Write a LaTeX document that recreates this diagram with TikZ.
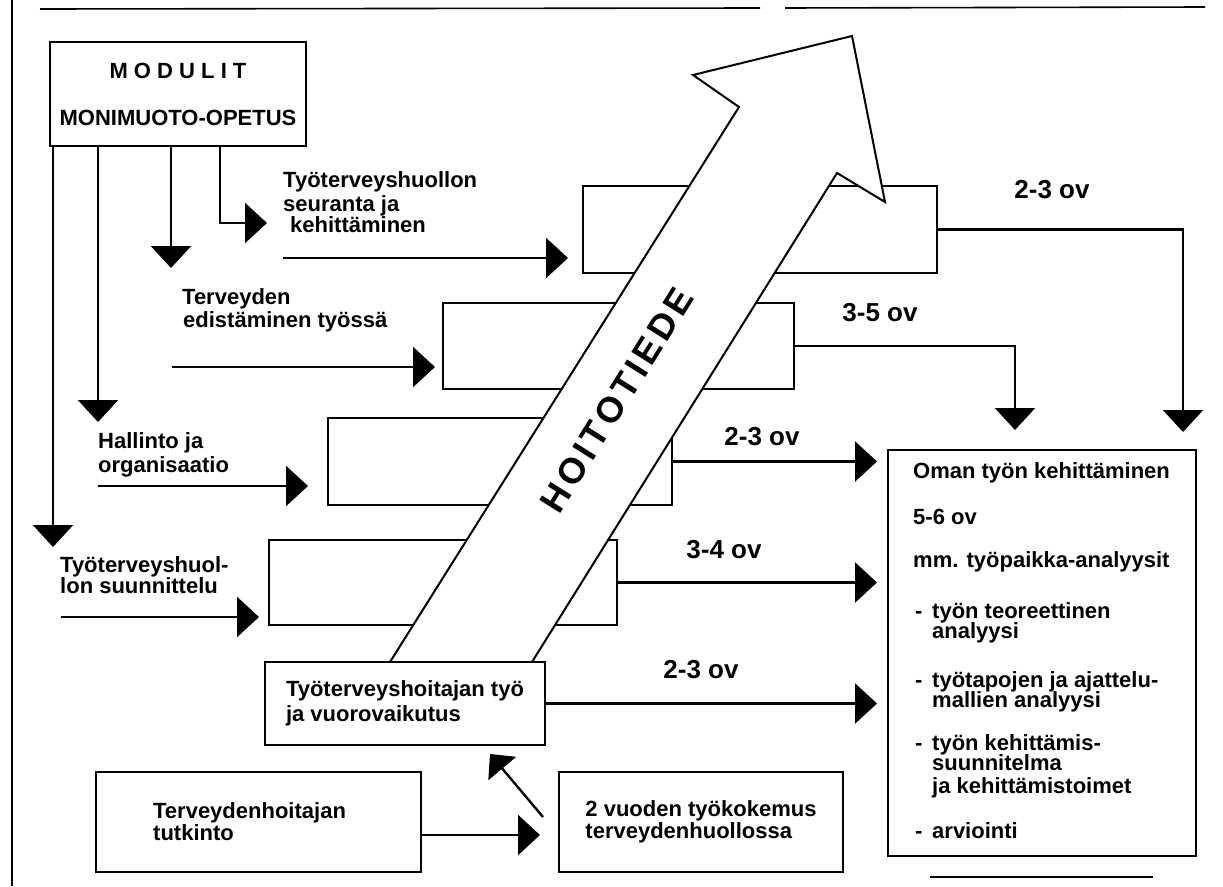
\documentclass[tikz,border=0pt]{standalone}
\usepackage{fontspec}
\setmainfont{Liberation Sans}
\usetikzlibrary{arrows.meta,calc}
\begin{document}
\begin{tikzpicture}[x=1pt,y=-1pt,
  box/.style={draw, line width=2pt, rectangle, inner sep=0pt},
  lbl/.style={anchor=base west, inner sep=0pt, font=\fontsize{22}{22}\selectfont\bfseries},
  ovl/.style={inner sep=0pt, font=\fontsize{26}{26}\selectfont\bfseries},
  arr/.style={line width=2.4pt, -{Triangle[length=22pt,width=40pt]}},
  arrs/.style={line width=2.4pt, -{Triangle[length=19pt,width=36pt]}},
  frame/.style={line width=1.6pt},
  band/.style={line width=2pt, line join=miter}
]
\useasboundingbox (0,0) rectangle (1223,886);

% scan frame
\draw[frame] (12,0) -- (12,886);
\draw[frame] (40,9) -- (760,8);
\draw[frame] (785,8) -- (1205,7);
\draw[frame] (930,877) -- (1153,877);

% top box
\node[box, minimum width=256pt, minimum height=104pt, align=center,
      font=\fontsize{22}{26}\selectfont\bfseries] (mod) at (178,94)
      {M O D U L I T\\[21pt]MONIMUOTO-OPETUS};

% module boxes
\node[box, minimum width=354pt, minimum height=87pt] (b1) at (760,229.5) {};
\node[box, minimum width=351pt, minimum height=86pt] (b2) at (618.5,346) {};
\node[box, minimum width=344pt, minimum height=87pt] (b3) at (500,461.5) {};
\node[box, minimum width=348pt, minimum height=85pt] (b4) at (443,582.5) {};

% big arrow HOITOTIEDE
\fill[white] (390,662) -- (739,107) -- (693,75) -- (852,36) -- (885,202) -- (837,173) -- (532,662) -- cycle;
\draw[band] (390,662) -- (739,107) -- (693,75) -- (852,36) -- (885,202) -- (837,173) -- (532,662);
\node[rotate=57.9, inner sep=0pt, font=\fontsize{36}{36}\selectfont\bfseries] (ht) at (617,400)
  {H\kern4pt O\kern4pt I\kern4pt T\kern4pt O\kern4pt T\kern4pt I\kern4pt E\kern4pt D\kern4pt E};

% lower boxes
\node[box, fill=white, minimum width=280pt, minimum height=83pt, align=left,
      font=\fontsize{22}{25}\selectfont\bfseries] (hoit) at (405,703.5)
      {Työterveyshoitajan työ\\ja vuorovaikutus};
\node[box, minimum width=325pt, minimum height=100pt, align=left,
      font=\fontsize{22}{22}\selectfont\bfseries] (tutk) at (258.5,822)
      {Terveydenhoitajan\\tutkinto\hspace*{130pt}};
\node[box, minimum width=284pt, minimum height=100pt, align=left,
      font=\fontsize{22}{22}\selectfont\bfseries] (kok) at (701,822)
      {2 vuoden työkokemus\\terveydenhuollossa};
\node[box, minimum width=308pt, minimum height=406pt] (oman) at (1042,653) {};

% labels to the left of module boxes
\node[lbl] (l1a) at (283,187) {Työterveyshuollon};
\node[lbl] (l1b) at (283,211) {seuranta ja};
\node[lbl] (l1c) at (290,232) {kehittäminen};
\node[lbl] (l2a) at (182,304) {Terveyden};
\node[lbl] (l2b) at (183,327) {edistäminen työssä};
\node[lbl] (l3a) at (98,448) {Hallinto ja};
\node[lbl] (l3b) at (98,472) {organisaatio};
\node[lbl] (l4a) at (60,572) {Työterveyshuol-};
\node[lbl] (l4b) at (60,593) {lon suunnittelu};

% duration labels
\node[ovl] (ov1) at (1052,190) {2-3 ov};
\node[ovl] (ov2) at (880,313) {3-5 ov};
\node[ovl] (ov3) at (762,437) {2-3 ov};
\node[ovl] (ov4) at (724,550) {3-4 ov};
\node[ovl] (ov5) at (701,670) {2-3 ov};

% text in the right box
\foreach \n/\xx/\yy/\tt in {
  o1/913/478/Oman työn kehittäminen,
  o2/913/524/5-6 ov,
  o3/913/567/mm. työpaikka-analyysit,
  d1/915/618/-, o4/932/618/työn teoreettinen, o5/932/638/analyysi,
  d2/915/687/-, o6/932/687/työtapojen ja ajattelu-, o7/932/707/mallien analyysi,
  d3/915/750/-, o8/932/750/työn kehittämis-, o9/932/770/suunnitelma, o10/932/793/ja kehittämistoimet,
  d4/915/838/-, o11/932/838/arviointi}
  \node[lbl] (\n) at (\xx,\yy) {\tt};

% coordinates for free connector ends
\coordinate (m1) at (53,547);
\coordinate (m2) at (98,422);
\coordinate (m3) at (171,268);
\coordinate (m4) at (220,223);
\coordinate (m4t) at (267,223);
\coordinate (s1) at (283,258); \coordinate (t1) at (568,258);
\coordinate (s2) at (172,367); \coordinate (t2) at (435,367);
\coordinate (s3) at (98,486);  \coordinate (t3) at (308,486);
\coordinate (s4) at (61,617);  \coordinate (t4) at (259,617);
\coordinate (e1) at (1183,432);
\coordinate (e2) at (1015,430);
\coordinate (tipx) at (877,0);
\coordinate (tk) at (540,835);
\coordinate (g1) at (543,817);
\coordinate (g2) at (490,754);

% connectors from the top box
\draw[arr] (mod.south -| m1) -- (m1);
\draw[arr] (mod.south -| m2) -- (m2);
\draw[arr] (mod.south -| m3) -- (m3);
\draw[arr] (mod.south -| m4) -- (m4) -- (m4t);

% label arrows into module boxes
\draw[arr] (s1) -- (t1);
\draw[arr] (s2) -- (t2);
\draw[arr] (s3) -- (t3);
\draw[arr] (s4) -- (t4);

% outputs to the right box
\draw[arr] (b1.east) -| (e1);
\draw[arr] (b2.east) -| (e2);
\draw[arr] (b3.east) -- (b3.east -| tipx);
\draw[arr] (b4.east) -- (b4.east -| tipx);
\draw[arr] (hoit.east) -- (hoit.east -| tipx);

% bottom
\draw[arr] (tutk.east |- tk) -- (tk);
\draw[arrs] (g1) -- (g2);
\end{tikzpicture}
\end{document}
